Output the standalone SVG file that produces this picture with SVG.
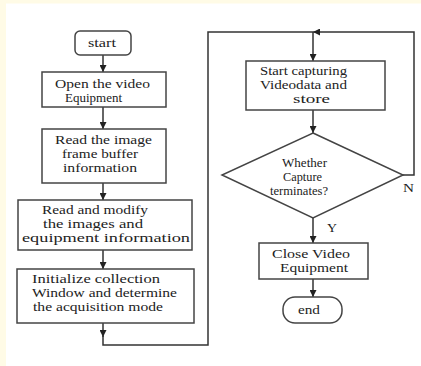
<svg xmlns="http://www.w3.org/2000/svg" width="421" height="366" viewBox="0 0 421 366">
<style>
.box{fill:#fff;stroke:#444;stroke-width:1.5}
.ln{fill:none;stroke:#333;stroke-width:1.5}
text{font-family:"Liberation Serif","Times New Roman",serif;font-size:12.5px;fill:#222}
</style>
<defs>
<marker id="ah" viewBox="0 0 10 10" refX="10" refY="5" markerWidth="7" markerHeight="7" markerUnits="userSpaceOnUse" orient="auto">
<path d="M0,0 L10,5 L0,10 z" fill="#222"/>
</marker>
</defs>
<rect x="0" y="0" width="421" height="366" fill="#fff"/>
<rect x="0" y="0" width="421" height="3.5" fill="#fffbe6"/>
<rect x="0" y="0" width="6" height="366" fill="#fffbe6"/>
<g id="connectors">
<path class="ln" d="M103,55 V72" marker-end="url(#ah)"/>
<path class="ln" d="M103,107 V129" marker-end="url(#ah)"/>
<path class="ln" d="M103,183 V200" marker-end="url(#ah)"/>
<path class="ln" d="M103,250 V269" marker-end="url(#ah)"/>
<path class="ln" d="M103,323 V337" marker-end="url(#ah)"/>
<path class="ln" d="M103,336 V345 H208 V32 H313"/>
<path class="ln" d="M403,175 H414 V32 H313" marker-end="url(#ah)"/>
<path class="ln" d="M313,32 V61" marker-end="url(#ah)"/>
<path class="ln" d="M313,110 V133" marker-end="url(#ah)"/>
<path class="ln" d="M313,218 V243" marker-end="url(#ah)"/>
<path class="ln" d="M313,279 V297" marker-end="url(#ah)"/>
<text x="403" y="192" textLength="11" lengthAdjust="spacingAndGlyphs">N</text>
<text x="327" y="232" textLength="10" lengthAdjust="spacingAndGlyphs">Y</text>
</g>
<g id="start">
<rect class="box" x="75" y="31" width="56" height="24" rx="5"/>
<text x="88" y="47" textLength="28" lengthAdjust="spacingAndGlyphs">start</text>
</g>
<g id="open">
<rect class="box" x="42" y="72" width="124" height="35"/>
<text x="55" y="88" textLength="95" lengthAdjust="spacingAndGlyphs">Open the video</text>
<text x="65" y="102" textLength="57" lengthAdjust="spacingAndGlyphs">Equipment</text>
</g>
<g id="readbuf">
<rect class="box" x="42" y="129" width="124" height="54"/>
<text x="55" y="144" textLength="97" lengthAdjust="spacingAndGlyphs">Read the image</text>
<text x="62" y="158" textLength="76" lengthAdjust="spacingAndGlyphs">frame buffer</text>
<text x="63" y="172" textLength="74" lengthAdjust="spacingAndGlyphs">information</text>
</g>
<g id="modify">
<rect class="box" x="18" y="200" width="174" height="50"/>
<text x="42" y="214" textLength="106" lengthAdjust="spacingAndGlyphs">Read and modify</text>
<text x="43" y="228" textLength="100" lengthAdjust="spacingAndGlyphs">the images and</text>
<text x="22" y="242" textLength="168" lengthAdjust="spacingAndGlyphs">equipment information</text>
</g>
<g id="init">
<rect class="box" x="17" y="269" width="177" height="54"/>
<text x="32" y="283" textLength="128" lengthAdjust="spacingAndGlyphs">Initialize collection</text>
<text x="32" y="297" textLength="145" lengthAdjust="spacingAndGlyphs">Window and determine</text>
<text x="33" y="311" textLength="130" lengthAdjust="spacingAndGlyphs">the acquisition mode</text>
</g>
<g id="capture">
<rect class="box" x="246" y="61" width="139" height="49"/>
<text x="260" y="75" textLength="87" lengthAdjust="spacingAndGlyphs">Start capturing</text>
<text x="260" y="89" textLength="87" lengthAdjust="spacingAndGlyphs">Videodata and</text>
<text x="293" y="103" textLength="37" lengthAdjust="spacingAndGlyphs">store</text>
</g>
<g id="decision">
<polygon class="box" points="313,133 403,175 313,218 222,175"/>
<text x="282" y="166.5" textLength="45" lengthAdjust="spacingAndGlyphs">Whether</text>
<text x="283" y="180.5" textLength="39" lengthAdjust="spacingAndGlyphs">Capture</text>
<text x="270" y="194.5" textLength="58" lengthAdjust="spacingAndGlyphs">terminates?</text>
</g>
<g id="close">
<rect class="box" x="259" y="243" width="109" height="36"/>
<text x="272" y="257.5" textLength="78" lengthAdjust="spacingAndGlyphs">Close Video</text>
<text x="280" y="271.5" textLength="68" lengthAdjust="spacingAndGlyphs">Equipment</text>
</g>
<g id="end">
<rect class="box" x="283" y="297" width="59" height="26" rx="12"/>
<text x="298" y="314" textLength="22" lengthAdjust="spacingAndGlyphs">end</text>
</g>
</svg>
